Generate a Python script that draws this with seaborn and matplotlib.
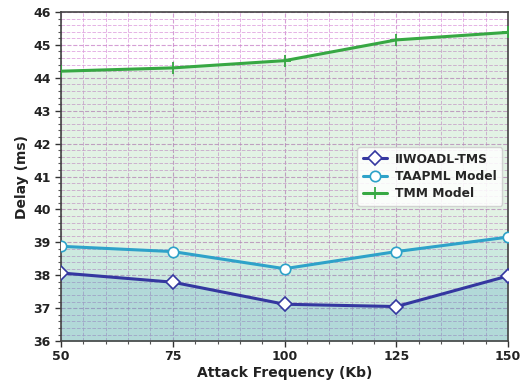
import matplotlib
matplotlib.use("Agg")
import matplotlib.pyplot as plt
from matplotlib.ticker import MultipleLocator
import seaborn as sns
import pandas as pd

attack_freq = [50, 75, 100, 125, 150]
iiwoadl_tms = [38.07, 37.79, 37.12, 37.05, 37.98]
taapml_model = [38.88, 38.72, 38.20, 38.72, 39.16]
tmm_model = [44.20, 44.30, 44.52, 45.15, 45.38]

series_names = ["IIWOADL-TMS", "TAAPML Model", "TMM Model"]
series_values = [iiwoadl_tms, taapml_model, tmm_model]
colors = ["#3437a0", "#2ea2c9", "#37a843"]
fill_colors = ["#4a9cc0", "#2eaac0", "#37a843"]
fill_alphas = [0.2, 0.12, 0.14]
markers = ["D", "o", "+"]

sns.set_style("ticks")
plt.rcParams["font.family"] = ["DejaVu Sans"]

fig, ax = plt.subplots(figsize=(5.26, 3.85), dpi=100)

# shaded area under each curve, largest first
for vals, fc, fa in reversed(list(zip(series_values, fill_colors, fill_alphas))):
    ax.fill_between(attack_freq, vals, 36, color=fc, alpha=fa, linewidth=0, zorder=1)

for name, vals, col, mk in zip(series_names, series_values, colors, markers):
    df = pd.DataFrame({"Attack Frequency (Kb)": attack_freq, "Delay (ms)": vals})
    if mk == "+":
        kw = dict(markersize=9, markeredgewidth=1.3, markeredgecolor=col)
    else:
        kw = dict(markersize=7 if mk == "D" else 7.5, markerfacecolor="white",
                  markeredgecolor=col, markeredgewidth=1.2)
    sns.lineplot(data=df, x="Attack Frequency (Kb)", y="Delay (ms)", color=col,
                 marker=mk, linewidth=2.2, label=name, ax=ax, zorder=3, **kw)

ax.set_xlim(50, 150)
ax.set_ylim(36, 46)
ax.set_xticks(attack_freq)
ax.yaxis.set_major_locator(MultipleLocator(1))
ax.xaxis.set_minor_locator(MultipleLocator(5))
ax.yaxis.set_minor_locator(MultipleLocator(0.2))
ax.grid(which="major", color="#c77fc7", linestyle="--", linewidth=0.8, alpha=0.75)
ax.grid(which="minor", color="#dc9adc", linestyle="--", linewidth=0.7, alpha=0.75)
ax.set_axisbelow(True)

for s in ax.spines.values():
    s.set_visible(True)
    s.set_color("#444444")
    s.set_linewidth(1.2)

ax.tick_params(which="major", length=4, width=1, colors="#333333", labelsize=9)
ax.tick_params(axis="x", which="major", pad=2.5)
ax.tick_params(which="minor", length=2, width=0.8, colors="#555555")
for lab in ax.get_xticklabels() + ax.get_yticklabels():
    lab.set_fontweight("bold")
    lab.set_color("#222222")

ax.set_xlabel("Attack Frequency (Kb)", fontsize=10, fontweight="bold", color="#222222", labelpad=2)
ax.set_ylabel("Delay (ms)", fontsize=10, fontweight="bold", color="#222222", labelpad=3)

leg = ax.legend(loc="center right", prop={"weight": "bold", "size": 8.8}, frameon=True,
                handlelength=2.0, borderpad=0.45, labelspacing=0.35, handletextpad=0.6)
leg.get_frame().set_alpha(0.85)

plt.subplots_adjust(left=0.116, right=0.966, top=0.969, bottom=0.114)
fig.savefig("out.png", dpi=100)
